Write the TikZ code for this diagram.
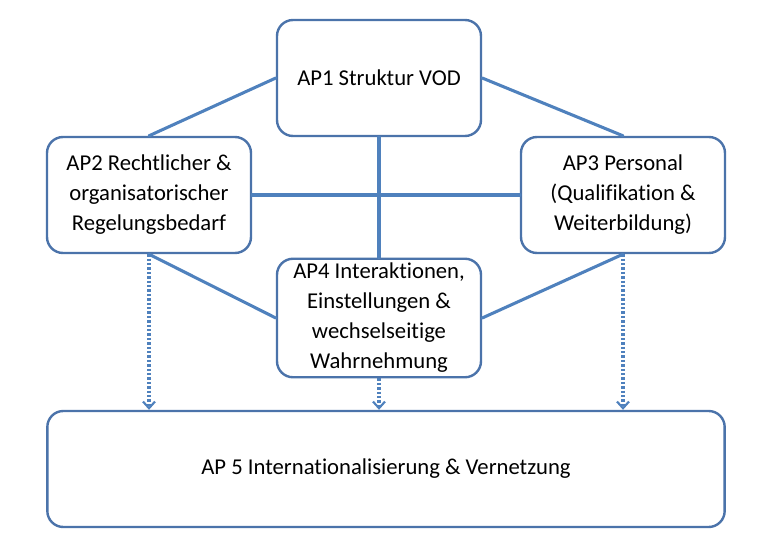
\documentclass[tikz,border=0pt]{standalone}
\usepackage{fontspec}
\setmainfont{Carlito}[RawFeature={-liga}]
\usepackage{xcolor}
\usetikzlibrary{arrows.meta}
\definecolor{apline}{RGB}{79,129,189}
\definecolor{apedge}{RGB}{75,115,170}
\tikzset{
	apbox/.style={draw=apedge, line width=1.8pt, fill=white, rounded corners=12pt,
		minimum width=153pt, minimum height=87pt, align=center,
		font=\fontsize{17}{22.5}\selectfont},
	aplink/.style={draw=apline, line width=2.3pt},
	apflow/.style={draw=apline, line width=2.4pt, line cap=butt, dash pattern=on 1.8pt off 1.5pt,
		-{Straight Barb[length=5pt, width=9pt, line width=1.6pt]}}
}
\begin{document}
\begin{tikzpicture}[x=0.75pt, y=-0.75pt, line cap=round, line join=round]
				\useasboundingbox (0,0) rectangle (772,550);
				
				\node[apbox] (ap1) at (379,78) {AP1 Struktur VOD};
				\node[apbox] (ap2) at (149,195) {AP2 Rechtlicher \&\\organisatorischer\\Regelungsbedarf};
				\node[apbox] (ap3) at (623,195) {AP3 Personal\\(Qualifikation \&\\Weiterbildung)};
				\node[apbox] (ap4) at (379,318) {AP4 Interaktionen,\\Einstellungen \&\\wechselseitige\\Wahrnehmung};
				\node[apbox, minimum width=508pt] (ap5) at (386,469) {AP 5 Internationalisierung \& Vernetzung};
				
				\draw[aplink] (ap1.west) -- (ap2.north);
				\draw[aplink] (ap1.east) -- (ap3.north);
				\draw[aplink] (ap1.south) -- (ap4.north);
				\draw[aplink] (ap2.east) -- (ap3.west);
				\draw[aplink] (ap2.south) -- (ap4.west);
				\draw[aplink] (ap3.south) -- (ap4.east);
				
				\draw[apflow] (ap2.south) -- (ap2.south |- ap5.north);
				\draw[apflow] (ap4.south) -- (ap4.south |- ap5.north);
				\draw[apflow] (ap3.south) -- (ap3.south |- ap5.north);
			\end{tikzpicture}
\end{document}
